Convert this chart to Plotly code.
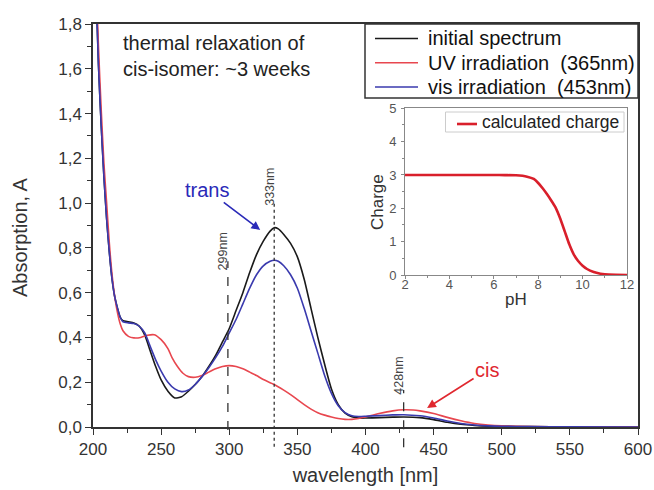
import plotly.graph_objects as go

# ---------------- data ----------------
wl_black = [200, 202, 204, 206, 208, 210, 212, 214, 216, 218, 220, 222, 226, 230, 234, 238, 242, 246, 250,
            255, 260, 265, 270, 275, 280, 285, 290, 295, 300, 305, 310, 315, 320, 325, 330, 333, 336, 340,
            345, 350, 355, 360, 365, 370, 375, 380, 385, 390, 395, 400, 410, 420, 428, 440, 450, 460, 470,
            480, 490, 500, 520, 550, 600]
abs_black = [2.4, 2.0, 1.62, 1.35, 1.12, 0.93, 0.78, 0.66, 0.58, 0.53, 0.49, 0.475, 0.47, 0.465, 0.45, 0.41,
             0.34, 0.27, 0.21, 0.16, 0.13, 0.135, 0.16, 0.19, 0.225, 0.27, 0.32, 0.38, 0.44, 0.52, 0.60, 0.69,
             0.77, 0.83, 0.875, 0.89, 0.885, 0.86, 0.82, 0.76, 0.66, 0.53, 0.40, 0.28, 0.17, 0.10, 0.062,
             0.046, 0.040, 0.040, 0.042, 0.044, 0.045, 0.042, 0.033, 0.021, 0.012, 0.007, 0.004, 0.003,
             0.002, 0.001, 0.0]

wl_blue = [200, 202, 204, 206, 208, 210, 212, 214, 216, 218, 220, 222, 226, 230, 234, 238, 242, 246, 250,
           255, 260, 265, 270, 275, 280, 285, 290, 295, 300, 305, 310, 315, 320, 325, 330, 333, 336, 340,
           345, 350, 355, 360, 365, 370, 375, 380, 385, 390, 395, 400, 410, 420, 428, 440, 450, 460, 470,
           480, 490, 500, 520, 550, 600]
abs_blue = [2.4, 2.0, 1.62, 1.35, 1.12, 0.93, 0.78, 0.66, 0.58, 0.53, 0.49, 0.47, 0.465, 0.462, 0.45, 0.42,
            0.36, 0.30, 0.25, 0.20, 0.17, 0.158, 0.165, 0.19, 0.225, 0.265, 0.31, 0.36, 0.42, 0.48, 0.55,
            0.62, 0.68, 0.72, 0.74, 0.745, 0.74, 0.72, 0.68, 0.62, 0.53, 0.43, 0.33, 0.23, 0.15, 0.095,
            0.064, 0.05, 0.047, 0.048, 0.051, 0.054, 0.055, 0.05, 0.04, 0.027, 0.016, 0.009, 0.005, 0.003,
            0.002, 0.001, 0.0]

wl_red = [200, 202, 204, 206, 208, 210, 212, 214, 216, 218, 220, 222, 226, 230, 235, 240, 245, 250, 255,
          258, 262, 266, 270, 275, 280, 285, 290, 295, 300, 305, 310, 315, 320, 325, 333, 340, 345, 350,
          355, 360, 365, 370, 375, 380, 385, 390, 395, 400, 410, 420, 428, 435, 440, 450, 460, 470, 480,
          490, 500, 520, 550, 600]
abs_red = [2.45, 2.05, 1.7, 1.42, 1.18, 1.0, 0.82, 0.68, 0.58, 0.51, 0.46, 0.43, 0.405, 0.398, 0.40, 0.41,
           0.412, 0.39, 0.35, 0.31, 0.27, 0.24, 0.225, 0.222, 0.23, 0.245, 0.26, 0.27, 0.274, 0.27, 0.26,
           0.245, 0.23, 0.212, 0.19, 0.165, 0.145, 0.122, 0.1, 0.08, 0.064, 0.053, 0.045, 0.038, 0.034,
           0.034, 0.038, 0.045, 0.06, 0.072, 0.077, 0.076, 0.072, 0.06, 0.043, 0.028, 0.016, 0.009, 0.005,
           0.002, 0.001, 0.0]

ph = [2, 3, 4, 5, 6, 6.5, 7, 7.5, 7.8, 8.0, 8.2, 8.4, 8.6, 8.8, 9.0, 9.2, 9.4, 9.6, 9.8, 10.0, 10.2,
      10.5, 10.8, 11.0, 11.5, 12]
charge = [3.0, 3.0, 3.0, 3.0, 3.0, 2.995, 2.99, 2.95, 2.88, 2.76, 2.6, 2.42, 2.22, 2.0, 1.68, 1.3, 0.92,
          0.62, 0.42, 0.28, 0.18, 0.09, 0.04, 0.02, 0.005, 0.0]

series_names = ["initial spectrum", "UV irradiation\u00a0\u00a0(365nm)", "vis irradiation\u00a0\u00a0(453nm)"]
series_colors = ["#1a1a1a", "#e8474f", "#3a3aae"]
inset_name = "calculated charge"
inset_color = "#d91f2b"

marker_nm = [299, 333, 428]
marker_labels = ["299nm", "333nm", "428nm"]
marker_top = [0.74, 1.0, 0.165]
marker_bottom = [-0.013, -0.088, -0.09]
marker_label_base = [0.69, 0.98, 0.134]

X_RANGE = [200, 600]
Y_RANGE = [0, 1.8]
x_ticks = [200, 250, 300, 350, 400, 450, 500, 550, 600]

FONT = "Liberation Sans, Arial, sans-serif"

# layout geometry (pixels in the 654x490 page)
W, H = 654, 490
ML, MR, MT, MB = 93, 16, 24, 63
PW, PH = W - ML - MR, H - MT - MB


def px(xp):
    return (xp - ML) / PW


def py(yp):
    return (H - MB - yp) / PH


fig = go.Figure()
for xs, ys, nm, col in zip([wl_black, wl_red, wl_blue], [abs_black, abs_red, abs_blue], series_names, series_colors):
    fig.add_trace(go.Scatter(x=xs, y=ys, mode="lines", name=nm, showlegend=False,
                             line=dict(color=col, width=1.6, shape="spline", smoothing=0.6)))
fig.add_trace(go.Scatter(x=ph, y=charge, mode="lines", name=inset_name, xaxis="x2", yaxis="y2",
                         showlegend=False,
                         line=dict(color=inset_color, width=2.6, shape="spline", smoothing=0.6)))

shapes = []
annotations = []
dashes = ["dash", "dot", "dash"]
for nm, lab, top, bot, base, dsh in zip(marker_nm, marker_labels, marker_top, marker_bottom,
                                        marker_label_base, dashes):
    shapes.append(dict(type="line", xref="x", yref="paper", x0=nm, x1=nm,
                       y0=bot / Y_RANGE[1], y1=top / Y_RANGE[1],
                       line=dict(color="#333", width=1.3, dash=dsh)))
    annotations.append(dict(x=nm, y=base, xref="x", yref="y", text=lab, textangle=-90,
                            showarrow=False, xanchor="center", yanchor="bottom", xshift=-5,
                            font=dict(family=FONT, size=12.5, color="#444")))

# main legend box (drawn by hand to match the original's compact spacing)
shapes.append(dict(type="rect", xref="paper", yref="paper", x0=px(365), x1=px(638), y0=py(98), y1=py(24),
                   line=dict(color="#333", width=1.5), fillcolor="white", layer="above"))
for i, (nm, col) in enumerate(zip(series_names, series_colors)):
    yc = 38.5 + 24.3 * i
    shapes.append(dict(type="line", xref="paper", yref="paper", x0=px(375), x1=px(418), y0=py(yc), y1=py(yc),
                       line=dict(color=col, width=1.5), layer="above"))
    annotations.append(dict(xref="paper", yref="paper", x=px(426), y=py(yc), text=nm, showarrow=False,
                            xanchor="left", yanchor="middle", font=dict(family=FONT, size=20, color="#111")))

# inset legend box
shapes.append(dict(type="rect", xref="paper", yref="paper", x0=px(445.5), x1=px(624), y0=py(132), y1=py(112),
                   line=dict(color="#ccc", width=1), fillcolor="white", layer="above"))
shapes.append(dict(type="line", xref="paper", yref="paper", x0=px(457), x1=px(477), y0=py(124), y1=py(124),
                   line=dict(color=inset_color, width=2.6), layer="above"))
annotations.append(dict(xref="paper", yref="paper", x=px(480), y=py(122), text=inset_name, showarrow=False,
                        xanchor="left", yanchor="middle", font=dict(family=FONT, size=17.5, color="#222")))

annotations.append(dict(x=220.5, y=1.775, xref="x", yref="y",
                        text="thermal relaxation of<br>cis-isomer: ~3 weeks",
                        showarrow=False, xanchor="left", yanchor="top", align="left",
                        font=dict(family=FONT, size=20, color="#222")))
annotations.append(dict(x=322.7, y=0.88, xref="x", yref="y", text="trans",
                        showarrow=True, ax=-53, ay=-40, arrowhead=2, arrowsize=1.1, arrowwidth=1.6,
                        arrowcolor="#2a2ab8", font=dict(family=FONT, size=20, color="#2a2ab8")))
annotations.append(dict(x=445.2, y=0.085, xref="x", yref="y", text="cis",
                        showarrow=True, ax=60, ay=-38, arrowhead=2, arrowsize=1.1, arrowwidth=1.6,
                        arrowcolor="#e0282f", font=dict(family=FONT, size=20, color="#e0282f")))
# axis titles placed as in the original
annotations.append(dict(xref="paper", yref="paper", x=px(20), y=py(237), text="Absorption, A", textangle=-90,
                        showarrow=False, xanchor="center", yanchor="middle",
                        font=dict(family=FONT, size=20, color="#333")))
annotations.append(dict(xref="paper", yref="paper", x=px(378), y=py(202), text="Charge", textangle=-90,
                        showarrow=False, xanchor="center", yanchor="middle",
                        font=dict(family=FONT, size=17, color="#333")))
annotations.append(dict(xref="paper", yref="paper", x=px(515.5), y=py(299), text="pH",
                        showarrow=False, xanchor="center", yanchor="middle",
                        font=dict(family=FONT, size=17, color="#333")))

axis_common = dict(showline=True, linecolor="#333", linewidth=1.5, mirror=True, ticks="outside",
                   tickcolor="#333", tickwidth=1.2, ticklen=6, showgrid=False, zeroline=False,
                   automargin=False, tickfont=dict(family=FONT, size=17, color="#333"))
inset_common = dict(showline=True, linecolor="#888", linewidth=1, mirror=True, ticks="outside",
                    tickcolor="#888", ticklen=3, showgrid=False, zeroline=False, automargin=False,
                    tickfont=dict(family=FONT, size=13, color="#555"))

fig.update_layout(
    width=W, height=H, autosize=False,
    margin=dict(l=ML, r=MR, t=MT, b=MB, autoexpand=False),
    paper_bgcolor="white", plot_bgcolor="white",
    separators=",.",
    font=dict(family=FONT, color="#222"),
    showlegend=False,
    xaxis=dict(range=X_RANGE, tickvals=x_ticks, **axis_common,
               minor=dict(ticks="outside", dtick=25, ticklen=4, tickcolor="#333"),
               title=dict(text="wavelength [nm]", font=dict(family=FONT, size=20, color="#333"), standoff=10)),
    yaxis=dict(range=Y_RANGE, dtick=0.2, tickformat=".1f", **axis_common,
               minor=dict(ticks="outside", dtick=0.1, ticklen=4, tickcolor="#333")),
    xaxis2=dict(domain=[px(405), px(627)], anchor="y2", range=[2, 12], dtick=2, **inset_common,
                ticklabelstandoff=-6,
                minor=dict(ticks="outside", dtick=1, ticklen=2, tickcolor="#888")),
    yaxis2=dict(domain=[py(275), py(108.3)], anchor="x2", range=[0, 5], dtick=1, **inset_common,
                ticklabelstandoff=2,
                minor=dict(ticks="outside", dtick=0.5, ticklen=2, tickcolor="#888")),
    shapes=shapes,
    annotations=annotations,
)

fig.write_html("out.html")
